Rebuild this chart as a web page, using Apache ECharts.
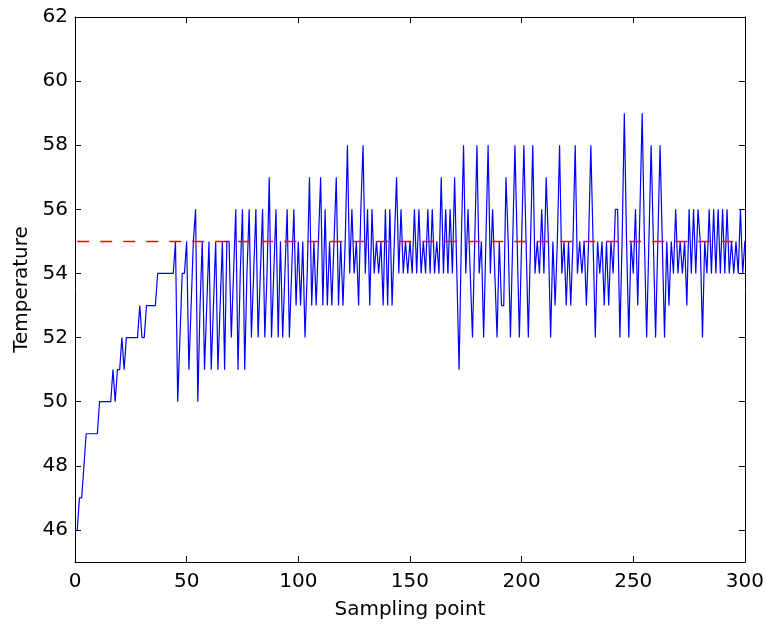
<!DOCTYPE html>
<html>
<head>
<meta charset="utf-8">
<script src="https://cdn.jsdelivr.net/npm/echarts@6/dist/echarts.min.js"></script>
<style>
html,body{margin:0;padding:0;background:#fff;}
#chart{width:767px;height:627px;}
</style>
</head>
<body>
<div id="chart"></div>
<script>
// Temperature readings, sampling points 1..300
var temperature = [
46,47,47,48,49,49,49,49,49,49,
50,50,50,50,50,50,51,50,51,51,
52,51,52,52,52,52,52,52,53,52,
52,53,53,53,53,53,54,54,54,54,
54,54,54,54,55,50,52,54,54,55,
51,53,55,56,50,53,55,51,53,55,
51,53,55,51,53,55,51,55,55,52,
54,56,51,54,56,51,54,56,52,54,
56,52,54,56,52,54,57,52,54,56,
52,55,52,54,56,52,54,56,53,55,
53,55,52,54,57,53,55,53,55,57,
53,56,53,55,53,55,57,53,55,53,
55,58,54,56,54,55,53,56,58,54,
56,53,56,54,55,54,55,53,56,53,
56,53,55,57,54,56,54,55,54,55,
54,56,54,56,54,55,54,56,54,56,
54,55,54,57,54,56,54,56,54,57,
54,51,55,58,54,56,54,52,55,58,
54,55,52,55,58,54,56,54,52,55,
53,53,57,55,52,55,58,55,52,55,
58,55,52,55,58,54,55,54,56,54,
57,55,52,55,53,55,58,54,55,53,
55,53,55,58,54,55,54,55,53,55,
58,55,52,55,54,55,53,55,53,55,
54,56,56,52,55,59,55,52,55,54,
56,53,56,59,55,52,55,58,55,52,
55,58,55,52,55,53,55,54,56,54,
55,54,55,53,56,54,56,54,56,55,
52,55,54,56,54,56,54,56,54,56,
54,56,54,55,54,55,54,56,54,55
];
var setPoint = 55;
var setRange = [1, 300];
var yTicks = [46, 48, 50, 52, 54, 56, 58, 60, 62];
var xTitle = 'Sampling point';
var yTitle = 'Temperature';

var seriesData = temperature.map(function (v, i) { return [i + 1, v]; });
var setData = setRange.map(function (x) { return [x, setPoint]; });

var FONT = 'DejaVu Sans';
var chart = echarts.init(document.getElementById('chart'), null, {renderer: 'canvas'});

function xAxisCfg(pos, showLabel) {
  return {
    type: 'value', position: pos, min: 0, max: 300, interval: 50,
    axisLine: {show: true, onZero: false, lineStyle: {color: '#000', width: 1}},
    axisTick: {show: true, inside: true, length: 6, lineStyle: {color: '#000', width: 1}},
    axisLabel: {show: showLabel, color: '#000', fontFamily: FONT, fontSize: 20, margin: 10},
    splitLine: {show: false}
  };
}
function yAxisCfg(pos, showLabel) {
  return {
    type: 'value', position: pos, min: 45, max: 62,
    axisLine: {show: true, onZero: false, lineStyle: {color: '#000', width: 1}},
    axisTick: {show: true, inside: true, length: 6, customValues: yTicks, lineStyle: {color: '#000', width: 1}},
    axisLabel: {show: showLabel, color: '#000', fontFamily: FONT, fontSize: 20, margin: 7, customValues: yTicks},
    splitLine: {show: false}
  };
}

var xa = xAxisCfg('bottom', true);
xa.name = xTitle; xa.nameLocation = 'middle'; xa.nameGap = 38;
xa.nameTextStyle = {color: '#000', fontFamily: FONT, fontSize: 20};
var ya = yAxisCfg('left', true);
ya.name = yTitle; ya.nameLocation = 'middle'; ya.nameGap = 43;
ya.nameTextStyle = {color: '#000', fontFamily: FONT, fontSize: 20};

chart.setOption({
  animation: false,
  backgroundColor: '#fff',
  grid: {left: 75, right: 22, top: 17, bottom: 65, containLabel: false},
  xAxis: [xa, xAxisCfg('top', false)],
  yAxis: [ya, yAxisCfg('right', false)],
  series: [
    {
      type: 'line', xAxisIndex: 0, yAxisIndex: 0,
      data: seriesData, showSymbol: false, symbol: 'none',
      lineStyle: {color: '#0000ff', width: 1.2},
      itemStyle: {color: '#0000ff'},
      z: 2
    },
    {
      type: 'line', xAxisIndex: 0, yAxisIndex: 0,
      data: setData, showSymbol: false, symbol: 'none',
      lineStyle: {color: '#ff0000', width: 1.5, type: [12, 11]},
      itemStyle: {color: '#ff0000'},
      z: 3
    }
  ]
});
</script>
</body>
</html>
